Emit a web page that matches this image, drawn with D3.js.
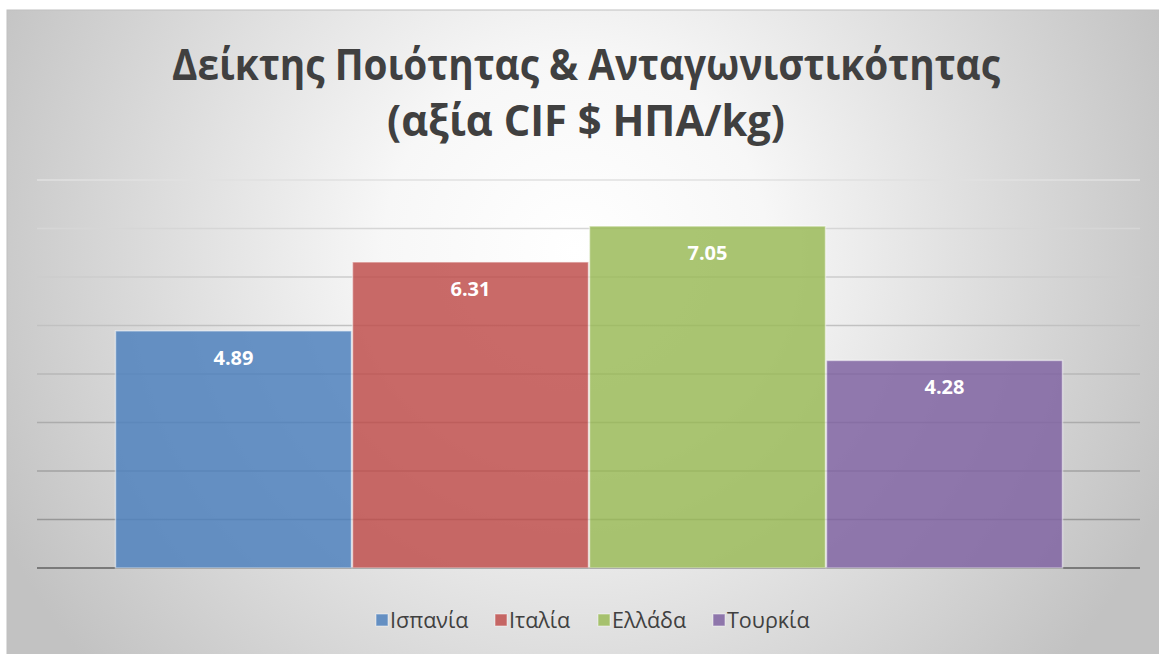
<!DOCTYPE html>
<meta charset="utf-8">
<style>
body { margin: 0; background: #fff; }
text { font-family: "Open Sans", "Noto Sans", sans-serif; }
</style>
<body>
<script src="https://d3js.org/d3.v7.min.js"></script>
<script>
var countries = ["Ισπανία", "Ιταλία", "Ελλάδα", "Τουρκία"];
var values = [4.89, 6.31, 7.05, 4.28];
var colors = ["#4F81BD", "#C0504D", "#9BBB59", "#8064A2"];
var yTicks = [0, 1, 2, 3, 4, 5, 6, 7, 8];
var titleLines = ["Δείκτης Ποιότητας & Ανταγωνιστικότητας", "(αξία CIF $ ΗΠΑ/kg)"];

var W = 1159, H = 654;
var plot = {left: 37, right: 1140, top: 180, bottom: 568};

var svg = d3.select("body").append("svg")
    .attr("width", W)
    .attr("height", H);

// background: radial grey gradient like the office chart style
var defs = svg.append("defs");
var grad = defs.append("radialGradient")
    .attr("id", "bg")
    .attr("gradientUnits", "userSpaceOnUse")
    .attr("cx", 575).attr("cy", 250).attr("r", 640);
grad.append("stop").attr("offset", "0%").attr("stop-color", "#ffffff");
grad.append("stop").attr("offset", "30%").attr("stop-color", "#f7f7f7");
grad.append("stop").attr("offset", "100%").attr("stop-color", "#c2c2c2");

svg.append("rect")
    .attr("x", 7).attr("y", 10)
    .attr("width", W).attr("height", H)
    .attr("fill", "url(#bg)")
    .attr("stroke", "#c0c0c0")
    .attr("stroke-width", 1);

var y = d3.scaleLinear()
    .domain([0, 8])
    .range([plot.bottom, plot.top]);

var x = d3.scaleBand()
    .domain(countries)
    .range([115, 1063])
    .paddingInner(0);

// gridlines
var gridColor = d3.interpolateRgb("#808080", "#d4d4d4");
svg.append("g")
  .selectAll("line")
  .data(yTicks)
  .enter().append("line")
    .attr("x1", plot.left)
    .attr("x2", plot.right)
    .attr("y1", function(d) { return y(d); })
    .attr("y2", function(d) { return y(d); })
    .attr("stroke", function(d) { return d === 0 ? "#7a7a7a" : gridColor(d / 8 + 0.15); })
    .attr("stroke-width", function(d) { return d === 0 ? 2 : 1.5; });

// bars
var bars = svg.append("g")
  .selectAll("g")
  .data(countries)
  .enter().append("g");

bars.append("rect")
    .attr("x", function(d) { return x(d) + 0.5; })
    .attr("width", x.bandwidth() - 1)
    .attr("y", function(d, i) { return y(values[i]); })
    .attr("height", function(d, i) { return y(0) - y(values[i]); })
    .attr("fill", function(d, i) { return colors[i]; })
    .attr("fill-opacity", 0.85)
    .attr("stroke", "#ffffff")
    .attr("stroke-opacity", 0.5)
    .attr("stroke-width", 1.5);

bars.append("text")
    .attr("x", function(d) { return x(d) + x.bandwidth() / 2; })
    .attr("y", function(d, i) { return y(values[i]) + 34; })
    .attr("text-anchor", "middle")
    .attr("fill", "#ffffff")
    .attr("font-size", 20)
    .attr("font-weight", "bold")
    .text(function(d, i) { return values[i].toFixed(2); });

// title
svg.append("g")
  .selectAll("text")
  .data(titleLines)
  .enter().append("text")
    .attr("x", 586)
    .attr("y", function(d, i) { return 80 + i * 56; })
    .attr("text-anchor", "middle")
    .attr("fill", "#404040")
    .attr("font-size", 43)
    .attr("font-weight", "bold")
    .attr("textLength", function(d, i) { return i === 0 ? 828 : 398; })
    .attr("lengthAdjust", "spacingAndGlyphs")
    .text(function(d) { return d; });

// legend
var legendX = [376, 495, 598, 713];
var legend = svg.append("g")
  .selectAll("g")
  .data(countries)
  .enter().append("g")
    .attr("transform", function(d, i) { return "translate(" + legendX[i] + ",620)"; });

legend.append("rect")
    .attr("x", 0).attr("y", -6)
    .attr("width", 12).attr("height", 12)
    .attr("fill", function(d, i) { return colors[i]; })
    .attr("fill-opacity", 0.85)
    .attr("stroke", "#ffffff")
    .attr("stroke-opacity", 0.5);

legend.append("text")
    .attr("x", 14)
    .attr("y", 8)
    .attr("fill", "#404040")
    .attr("font-size", 21.5)
    .text(function(d) { return d; });
</script>
</body>
